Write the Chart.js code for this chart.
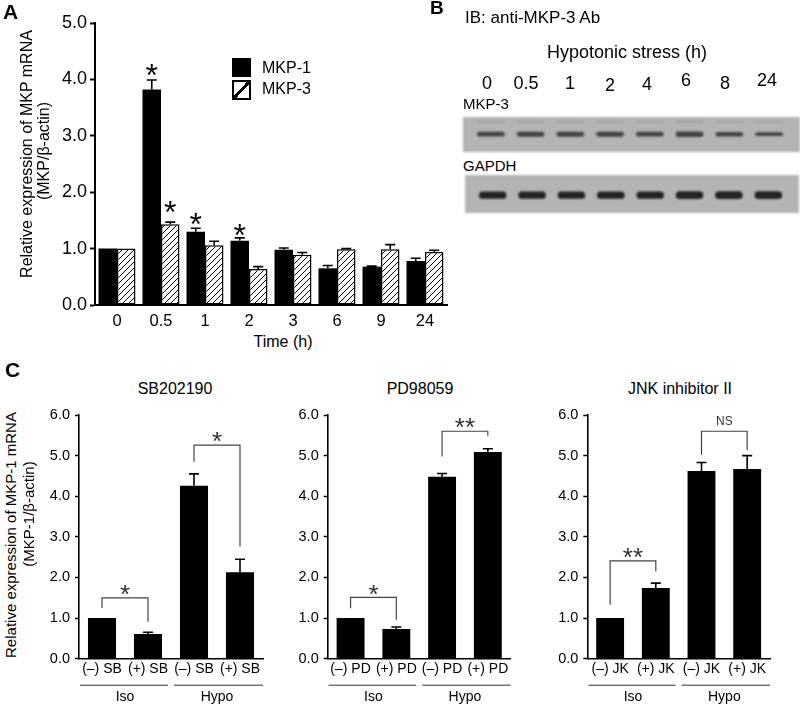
<!DOCTYPE html>
<html>
<head>
<meta charset="utf-8">
<script src="https://cdn.jsdelivr.net/npm/chart.js@4.4.0/dist/chart.umd.min.js"></script>
<style>
body { margin: 0; background: #fff; }
#wrap { position: relative; width: 800px; height: 705px; overflow: hidden; font-family: "Liberation Sans", Arial, sans-serif; color: #000; }
.t { position: absolute; white-space: nowrap; line-height: 1; }
.ctr { transform: translate(-50%, -50%); }
.rot { transform: translate(-50%, -50%) rotate(-90deg); }
canvas { position: absolute; }
.blot { filter: blur(0.8px); }
</style>
</head>
<body>
<div id="wrap">
  <!-- A -->
  <canvas id="cA" width="460" height="330" style="left:0;top:0"></canvas>
  <div class="t" style="left:3px;top:1px;font-size:21px;font-weight:bold">A</div>
  <div class="t rot" style="left:27px;top:154px;font-size:16px">Relative expression of MKP mRNA</div>
  <div class="t rot" style="left:44px;top:151px;font-size:16px">(MKP/β-actin)</div>
  <div style="position:absolute;left:232px;top:58px;width:19px;height:19px;background:#000"></div>
  <div style="position:absolute;left:232px;top:80px;width:15px;height:16px;border:2px solid #000;background:linear-gradient(to bottom right,transparent 43%,#000 43%,#000 57%,transparent 57%)"></div>
  <div class="t" style="left:262px;top:60px;font-size:16px">MKP-1</div>
  <div class="t" style="left:262px;top:81px;font-size:16px">MKP-3</div>
  <div class="t ctr" style="left:283px;top:342px;font-size:16px">Time (h)</div>

  <!-- B -->
  <div class="t" style="left:430px;top:-2px;font-size:19px;font-weight:bold">B</div>
  <div class="t" style="left:465px;top:9px;font-size:17px">IB: anti-MKP-3 Ab</div>
  <div class="t ctr" style="left:627px;top:52px;font-size:18px">Hypotonic stress (h)</div>
  <div id="lanes"></div>
  <div class="t" style="left:463px;top:96px;font-size:15px">MKP-3</div>
  <canvas id="cB1" class="blot" width="337" height="35" style="left:463px;top:117px"></canvas>
  <div class="t" style="left:463px;top:158px;font-size:15px">GAPDH</div>
  <canvas id="cB2" class="blot" width="334" height="38" style="left:465px;top:175px"></canvas>

  <!-- C -->
  <div class="t" style="left:5px;top:359px;font-size:21px;font-weight:bold">C</div>
  <div class="t rot" style="left:10px;top:535px;font-size:15px">Relative expression of MKP-1 mRNA</div>
  <div class="t rot" style="left:28px;top:514px;font-size:15px">(MKP-1/β-actin)</div>
  <div class="t ctr" style="left:175px;top:389px;font-size:16px">SB202190</div>
  <div class="t ctr" style="left:420px;top:389px;font-size:16px">PD98059</div>
  <div class="t ctr" style="left:680px;top:389px;font-size:16px">JNK inhibitor II</div>
  <canvas id="cC1" width="275" height="305" style="left:0;top:400px"></canvas>
  <canvas id="cC2" width="250" height="305" style="left:275px;top:400px"></canvas>
  <canvas id="cC3" width="270" height="305" style="left:530px;top:400px"></canvas>
</div>
<script>
// A: MKP mRNA over time
var timeLabels = ['0', '0.5', '1', '2', '3', '6', '9', '24'];
var mkp1 = [1.0, 3.82, 1.30, 1.14, 0.98, 0.65, 0.68, 0.78];
var mkp1Err = [0, 0.17, 0.06, 0.05, 0.03, 0.05, 0.01, 0.05];
var mkp3 = [1.0, 1.43, 1.06, 0.64, 0.89, 0.99, 0.99, 0.94];
var mkp3Err = [0, 0.04, 0.07, 0.04, 0.04, 0.01, 0.08, 0.03];
// star heights (data units), null = none
var starA1 = [null, 4.21, 1.58, 1.37, null, null, null, null];
var starA3 = [null, 1.79, null, null, null, null, null, null];

// B: blot lanes
var laneLabels = ['0', '0.5', '1', '2', '4', '6', '8', '24'];
var laneLabelX = [487, 526, 570, 610, 647, 686, 725, 767];
var laneLabelY = [83, 83, 83, 85, 84, 80, 83, 80];
var mkp3Band = [0.9, 0.95, 0.95, 0.95, 0.9, 1.05, 0.85, 0.75];
var mkp3Upper = [0.5, 0.5, 0.5, 0.5, 0.4, 0.6, 0.4, 0.4];
var gapdhBand = [1.0, 1.0, 1.0, 1.0, 1.0, 1.05, 1.05, 1.05];

// C: inhibitors
var sbLabels = ['(–) SB', '(+) SB', '(–) SB', '(+) SB'];
var sbMean = [1.0, 0.61, 4.26, 2.13];
var sbErr = [0, 0.04, 0.29, 0.32];
var pdLabels = ['(–) PD', '(+) PD', '(–) PD', '(+) PD'];
var pdMean = [1.0, 0.73, 4.48, 5.09];
var pdErr = [0, 0.05, 0.08, 0.08];
var jkLabels = ['(–) JK', '(+) JK', '(–) JK', '(+) JK'];
var jkMean = [1.0, 1.74, 4.62, 4.67];
var jkErr = [0, 0.12, 0.21, 0.33];
// brackets: [bar a, bar b, left foot, top, right foot, mark]
var sbBrackets = [[0, 1, 1.25, 1.50, 0.91, '*'], [2, 3, 4.85, 5.26, 2.76, '*']];
var pdBrackets = [[0, 1, 1.24, 1.51, 0.96, '*'], [2, 3, 4.98, 5.60, 5.49, '**']];
var jkBrackets = [[0, 1, 1.33, 2.41, 2.15, '**'], [2, 3, 5.02, 5.60, 5.14, 'NS']];

var F = '"Liberation Sans", Arial, sans-serif';

// lane labels
var lanesDiv = document.getElementById('lanes');
laneLabels.forEach(function (l, i) {
    var d = document.createElement('div');
    d.className = 't ctr';
    d.style.cssText = 'left:' + laneLabelX[i] + 'px;top:' + laneLabelY[i] + 'px;font-size:18px';
    d.textContent = l;
    lanesDiv.appendChild(d);
});

function drawStar(ctx, text, x, cy, size, color) {
    ctx.save();
    ctx.fillStyle = color;
    ctx.textAlign = 'center';
    if (text == 'NS') {
        ctx.font = '12px ' + F;
        ctx.textBaseline = 'middle';
        ctx.fillText(text, x, cy);
    } else {
        ctx.font = size + 'px ' + F;
        ctx.textBaseline = 'alphabetic';
        ctx.fillText(text, x, cy + 0.585 * size);
    }
    ctx.restore();
}

var errorBars = {
    id: 'errorBars',
    afterDatasetsDraw: function (chart) {
        var ctx = chart.ctx, y = chart.scales.y;
        chart.data.datasets.forEach(function (ds, di) {
            if (!ds.errs) return;
            chart.getDatasetMeta(di).data.forEach(function (bar, i) {
                var e = ds.errs[i];
                if (!e) return;
                var top = y.getPixelForValue(ds.data[i] + e);
                ctx.save();
                ctx.strokeStyle = '#000';
                ctx.lineWidth = 1.6;
                ctx.beginPath();
                ctx.moveTo(bar.x, bar.y);
                ctx.lineTo(bar.x, top);
                ctx.moveTo(bar.x - 5, top);
                ctx.lineTo(bar.x + 5, top);
                ctx.stroke();
                ctx.restore();
            });
        });
    }
};

var starsA = {
    id: 'starsA',
    afterDatasetsDraw: function (chart) {
        var y = chart.scales.y;
        [starA1, starA3].forEach(function (arr, di) {
            var meta = chart.getDatasetMeta(di);
            arr.forEach(function (v, i) {
                if (v == null) return;
                drawStar(chart.ctx, '*', meta.data[i].x, y.getPixelForValue(v), 32, '#000');
            });
        });
    }
};

// A
var ctxA = document.getElementById('cA').getContext('2d');
var tile = document.createElement('canvas');
tile.width = 6; tile.height = 6;
var tg = tile.getContext('2d');
tg.fillStyle = '#fff';
tg.fillRect(0, 0, 6, 6);
tg.strokeStyle = '#000';
tg.lineWidth = 1;
tg.beginPath();
tg.moveTo(0, 6); tg.lineTo(6, 0);
tg.moveTo(-1, 1); tg.lineTo(1, -1);
tg.moveTo(5, 7); tg.lineTo(7, 5);
tg.stroke();
var hatch = ctxA.createPattern(tile, 'repeat');

new Chart(ctxA, {
    type: 'bar',
    data: {
        labels: timeLabels,
        datasets: [
            { label: 'MKP-1', data: mkp1, errs: mkp1Err, backgroundColor: '#000', borderWidth: 0, categoryPercentage: 0.84, barPercentage: 1.0 },
            { label: 'MKP-3', data: mkp3, errs: mkp3Err, backgroundColor: hatch, borderColor: '#000', borderWidth: 1.5, borderSkipped: false, categoryPercentage: 0.84, barPercentage: 1.0 }
        ]
    },
    options: {
        responsive: false,
        animation: false,
        layout: { padding: { top: 23, right: 13, left: 0, bottom: 0 } },
        plugins: { legend: { display: false }, tooltip: { enabled: false } },
        scales: {
            x: {
                grid: { display: false, drawTicks: false },
                border: { color: '#000', width: 2 },
                ticks: { color: '#000', font: { family: F, size: 16.5 }, padding: 7 },
                afterFit: function (s) { s.height = 25; }
            },
            y: {
                min: 0, max: 5,
                ticks: { stepSize: 1, color: '#000', font: { family: F, size: 18 }, padding: 3, callback: function (v) { return v.toFixed(1); } },
                grid: { drawOnChartArea: false, tickLength: 5, tickColor: '#000', tickWidth: 2 },
                border: { color: '#000', width: 2 },
                afterFit: function (s) { s.width = 95; }
            }
        }
    },
    plugins: [errorBars, starsA]
});

// B blots
function blot(id, bands, center, half, color, upper) {
    var datasets = [{
        data: bands.map(function (v) { return [center - half * v, center + half * v]; }),
        backgroundColor: color, borderWidth: 0, borderRadius: 4, borderSkipped: false,
        categoryPercentage: 1, barPercentage: 0.7, grouped: false
    }];
    if (upper) {
        datasets.push({
            data: upper.map(function (v) { return [0.86 - 0.08 * v, 0.86 + 0.08 * v]; }),
            backgroundColor: 'rgba(140,140,140,0.4)', borderWidth: 0, borderRadius: 3, borderSkipped: false,
            categoryPercentage: 1, barPercentage: 0.7, grouped: false
        });
    }
    new Chart(document.getElementById(id), {
        type: 'bar',
        data: { labels: laneLabels, datasets: datasets },
        options: {
            responsive: false,
            animation: false,
            layout: { padding: { left: 8, right: 11, top: 0, bottom: 0 } },
            plugins: { legend: { display: false }, tooltip: { enabled: false } },
            scales: {
                x: { display: false },
                y: { display: false, min: 0, max: 1 }
            }
        },
        plugins: [{
            id: 'bg',
            beforeDraw: function (chart) {
                var c = chart.ctx;
                c.save();
                c.fillStyle = '#b4b4b4';
                c.fillRect(0, 0, chart.width, chart.height);
                c.restore();
            }
        }]
    });
}
blot('cB1', mkp3Band, 0.51, 0.075, '#424242', mkp3Upper);
blot('cB2', gapdhBand, 0.47, 0.095, '#222', null);

// C charts
function chartC(id, labels, mean, err, brackets, yWidth, padRight) {
    var marks = {
        id: 'marks',
        afterDatasetsDraw: function (chart) {
            var ctx = chart.ctx, y = chart.scales.y, x = chart.scales.x, area = chart.chartArea;
            brackets.forEach(function (b) {
                var xa = x.getPixelForValue(b[0]), xb = x.getPixelForValue(b[1]);
                var top = y.getPixelForValue(b[3]);
                ctx.save();
                ctx.strokeStyle = '#444';
                ctx.lineWidth = 1.2;
                ctx.beginPath();
                ctx.moveTo(xa, y.getPixelForValue(b[2]));
                ctx.lineTo(xa, top);
                ctx.lineTo(xb, top);
                ctx.lineTo(xb, y.getPixelForValue(b[4]));
                ctx.stroke();
                ctx.restore();
                drawStar(ctx, b[5], (xa + xb) / 2, top - 10, 26, '#333');
            });
            // group lines
            var mid = (x.getPixelForValue(1) + x.getPixelForValue(2)) / 2;
            var ly = area.bottom + 26.5;
            ctx.save();
            ctx.strokeStyle = '#333';
            ctx.lineWidth = 1;
            ctx.beginPath();
            ctx.moveTo(area.left + 1, ly); ctx.lineTo(mid - 3, ly);
            ctx.moveTo(mid + 3, ly); ctx.lineTo(area.right, ly);
            ctx.stroke();
            ctx.fillStyle = '#000';
            ctx.font = '14px ' + F;
            ctx.textAlign = 'center';
            ctx.textBaseline = 'middle';
            ctx.fillText('Iso', (area.left + mid) / 2, ly + 12);
            ctx.fillText('Hypo', (mid + area.right) / 2, ly + 12);
            ctx.restore();
        }
    };
    new Chart(document.getElementById(id), {
        type: 'bar',
        data: {
            labels: labels,
            datasets: [{ data: mean, errs: err, backgroundColor: '#000', borderWidth: 0, categoryPercentage: 1, barPercentage: 0.61 }]
        },
        options: {
            responsive: false,
            animation: false,
            layout: { padding: { top: 15, right: padRight, left: 0, bottom: 0 } },
            plugins: { legend: { display: false }, tooltip: { enabled: false } },
            scales: {
                x: {
                    grid: { display: false, drawTicks: false },
                    border: { color: '#000', width: 1.6 },
                    ticks: { color: '#000', font: { family: F, size: 14 }, padding: 2, maxRotation: 0, autoSkip: false },
                    afterFit: function (s) { s.height = 46.3; }
                },
                y: {
                    min: 0, max: 6,
                    ticks: { stepSize: 1, color: '#000', font: { family: F, size: 14.5 }, padding: 5, callback: function (v) { return v.toFixed(1); } },
                    grid: { drawOnChartArea: false, tickLength: 4, tickColor: '#000', tickWidth: 1.5 },
                    border: { color: '#000', width: 1.6 },
                    afterFit: function (s) { s.width = yWidth; }
                }
            }
        },
        plugins: [errorBars, marks]
    });
}
chartC('cC1', sbLabels, sbMean, sbErr, sbBrackets, 79, 12);
chartC('cC2', pdLabels, pdMean, pdErr, pdBrackets, 52.7, 14.3);
chartC('cC3', jkLabels, jkMean, jkErr, jkBrackets, 57.3, 30);
</script>
</body>
</html>
